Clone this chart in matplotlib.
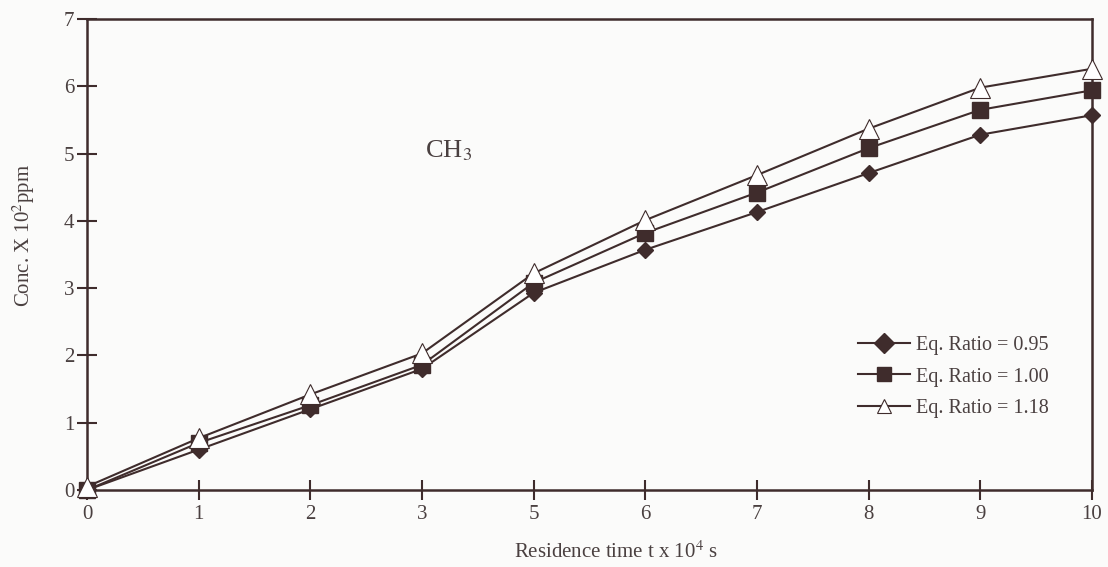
import numpy as np
import matplotlib.pyplot as plt

plt.rcParams['font.family'] = ['Liberation Serif', 'DejaVu Serif']
plt.rcParams['mathtext.fontset'] = 'stix'

ink = '#3f2c2c'
txt = '#4a4040'

time_labels = ['0', '1', '2', '3', '5', '6', '7', '8', '9', '10']
conc_095 = [0.0, 0.60, 1.20, 1.80, 2.93, 3.57, 4.13, 4.71, 5.28, 5.57]
conc_100 = [0.0, 0.70, 1.26, 1.86, 3.08, 3.82, 4.42, 5.08, 5.65, 5.94]
conc_118 = [0.05, 0.77, 1.42, 2.03, 3.22, 4.01, 4.68, 5.37, 5.98, 6.26]

fig = plt.figure(figsize=(11.08, 5.67), dpi=100)
fig.patch.set_facecolor('#fbfbfa')
ax = fig.add_axes([0.0785, 0.1358, 0.907, 0.8307])
ax.set_facecolor('#fbfbfa')

xs = np.arange(len(time_labels))
ax.plot(xs, conc_095, color=ink, lw=1.5, marker='D', ms=8, mfc=ink, mec=ink,
        label='Eq. Ratio = 0.95', clip_on=False, zorder=3)
ax.plot(xs, conc_100, color=ink, lw=1.5, marker='s', ms=11, mfc=ink, mec=ink,
        label='Eq. Ratio = 1.00', clip_on=False, zorder=3)
ax.plot(xs, conc_118, color=ink, lw=1.5, marker='^', ms=15, mfc='white', mec=ink,
        mew=0.8, label='Eq. Ratio = 1.18', clip_on=False, zorder=3)

ax.set_xlim(0, 9)
ax.set_ylim(0, 7)
ax.set_xticks(xs)
ax.set_xticklabels(time_labels)
ax.set_yticks(range(8))

for s in ax.spines.values():
    s.set_color(ink)
    s.set_linewidth(1.8)

ax.tick_params(axis='both', direction='inout', length=14, width=1.5, color=ink,
               labelsize=15, labelcolor=txt)
ax.tick_params(axis='x', pad=4)
ax.tick_params(axis='y', pad=2)

ax.set_xlabel(r'Residence time t x 10$^4$ s', fontsize=15, color=txt)
ax.xaxis.set_label_coords(0.526, -0.108)
ax.set_ylabel(r'Conc. X 10$^2$ppm', fontsize=15, color=txt)
ax.yaxis.set_label_coords(-0.05, 0.54)

ax.text(3.24, 5.05, r'CH$_3$', fontsize=19, color=txt, ha='center', va='center')

leg = ax.legend(loc='center left', bbox_to_anchor=(0.749, 0.24), frameon=False,
                fontsize=14.5, handlelength=2.6, labelspacing=0.6, handletextpad=0.3,
                labelcolor=txt)
for h in leg.legend_handles:
    h.set_markersize(10)

fig.savefig('out.png', dpi=100, facecolor=fig.get_facecolor())
